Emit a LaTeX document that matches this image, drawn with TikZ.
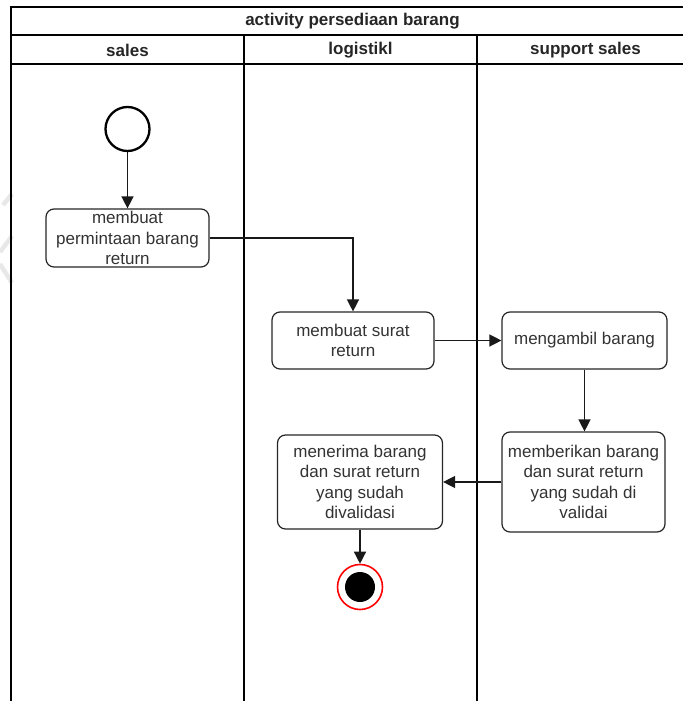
\documentclass[tikz,border=0pt]{standalone}
\usepackage{fontspec}
\setmainfont{Liberation Sans}
\usetikzlibrary{arrows.meta}
\begin{document}
\begin{tikzpicture}[x=1pt,y=-1pt,
  lane/.style={draw=black,line width=1.4pt},
  act/.style={draw=black!85,line width=1.2pt,rounded corners=8pt,fill=white,
    align=center,inner sep=0pt,font=\fontsize{17}{20.5}\selectfont,text=black!80},
  head/.style={font=\bfseries\fontsize{17}{20}\selectfont,text=black!85},
  flow/.style={-{Triangle[length=12pt,width=12pt]},line width=1.4pt,draw=black!90}]
\useasboundingbox (0,0) rectangle (683,701);

% faint marks in the left margin
\draw[gray!18,line width=4.5pt] (12,194) -- (3,205);
\draw[gray!18,line width=4.5pt] (12,236) -- (0,252);
\draw[gray!18,line width=4.5pt] (0,264) -- (12,283);

% swimlane frame
\draw[lane] (683,7) -- (11,7) -- (11,701);
\draw[lane] (11,35) -- (683,35);
\draw[lane] (11,64) -- (683,64);
\draw[lane] (244,35) -- (244,701);
\draw[lane] (477,35) -- (477,701);

% headers
\node[head] (title) at (352.5,21) {activity persediaan barang};
\node[head] (hsales) at (127.5,50) {sales};
\node[head] (hlog) at (360.5,50) {logistikl};
\node[head] (hsup) at (585.5,50) {support sales};

% activities
\node[draw=black,line width=2.3pt,circle,minimum size=44pt,inner sep=0pt] (start) at (127.5,129) {};
\node[act,minimum width=163pt,minimum height=58pt] (b1) at (127.5,238) {membuat\\permintaan barang\\return};
\node[act,minimum width=162pt,minimum height=57pt] (b2) at (353,340.5) {membuat surat\\return};
\node[act,minimum width=165pt,minimum height=57pt] (b3) at (584.5,340.5) {mengambil barang};
\node[act,minimum width=163pt,minimum height=100pt] (b4) at (583.5,482) {memberikan barang\\dan surat return\\yang sudah di\\validai};
\node[act,minimum width=165pt,minimum height=94pt] (b5) at (360,482) {menerima barang\\dan surat return\\yang sudah\\divalidasi};
\node[draw=red,line width=1.6pt,circle,minimum size=45pt,inner sep=0pt] (end) at (360,587) {};
\node[fill=black,circle,minimum size=30pt,inner sep=0pt] (endin) at (360,587) {};

% control flow
\draw[flow] (start) -- (b1);
\draw[flow] (b1.east) -| (b2.north);
\draw[flow] (b2.east) -- (b3.west);
\draw[flow] (b3.south) -- (b3.south |- b4.north);
\draw[flow] (b4.west) -- (b5.east);
\draw[flow] (b5.south) -- (end.north);
\end{tikzpicture}
\end{document}
